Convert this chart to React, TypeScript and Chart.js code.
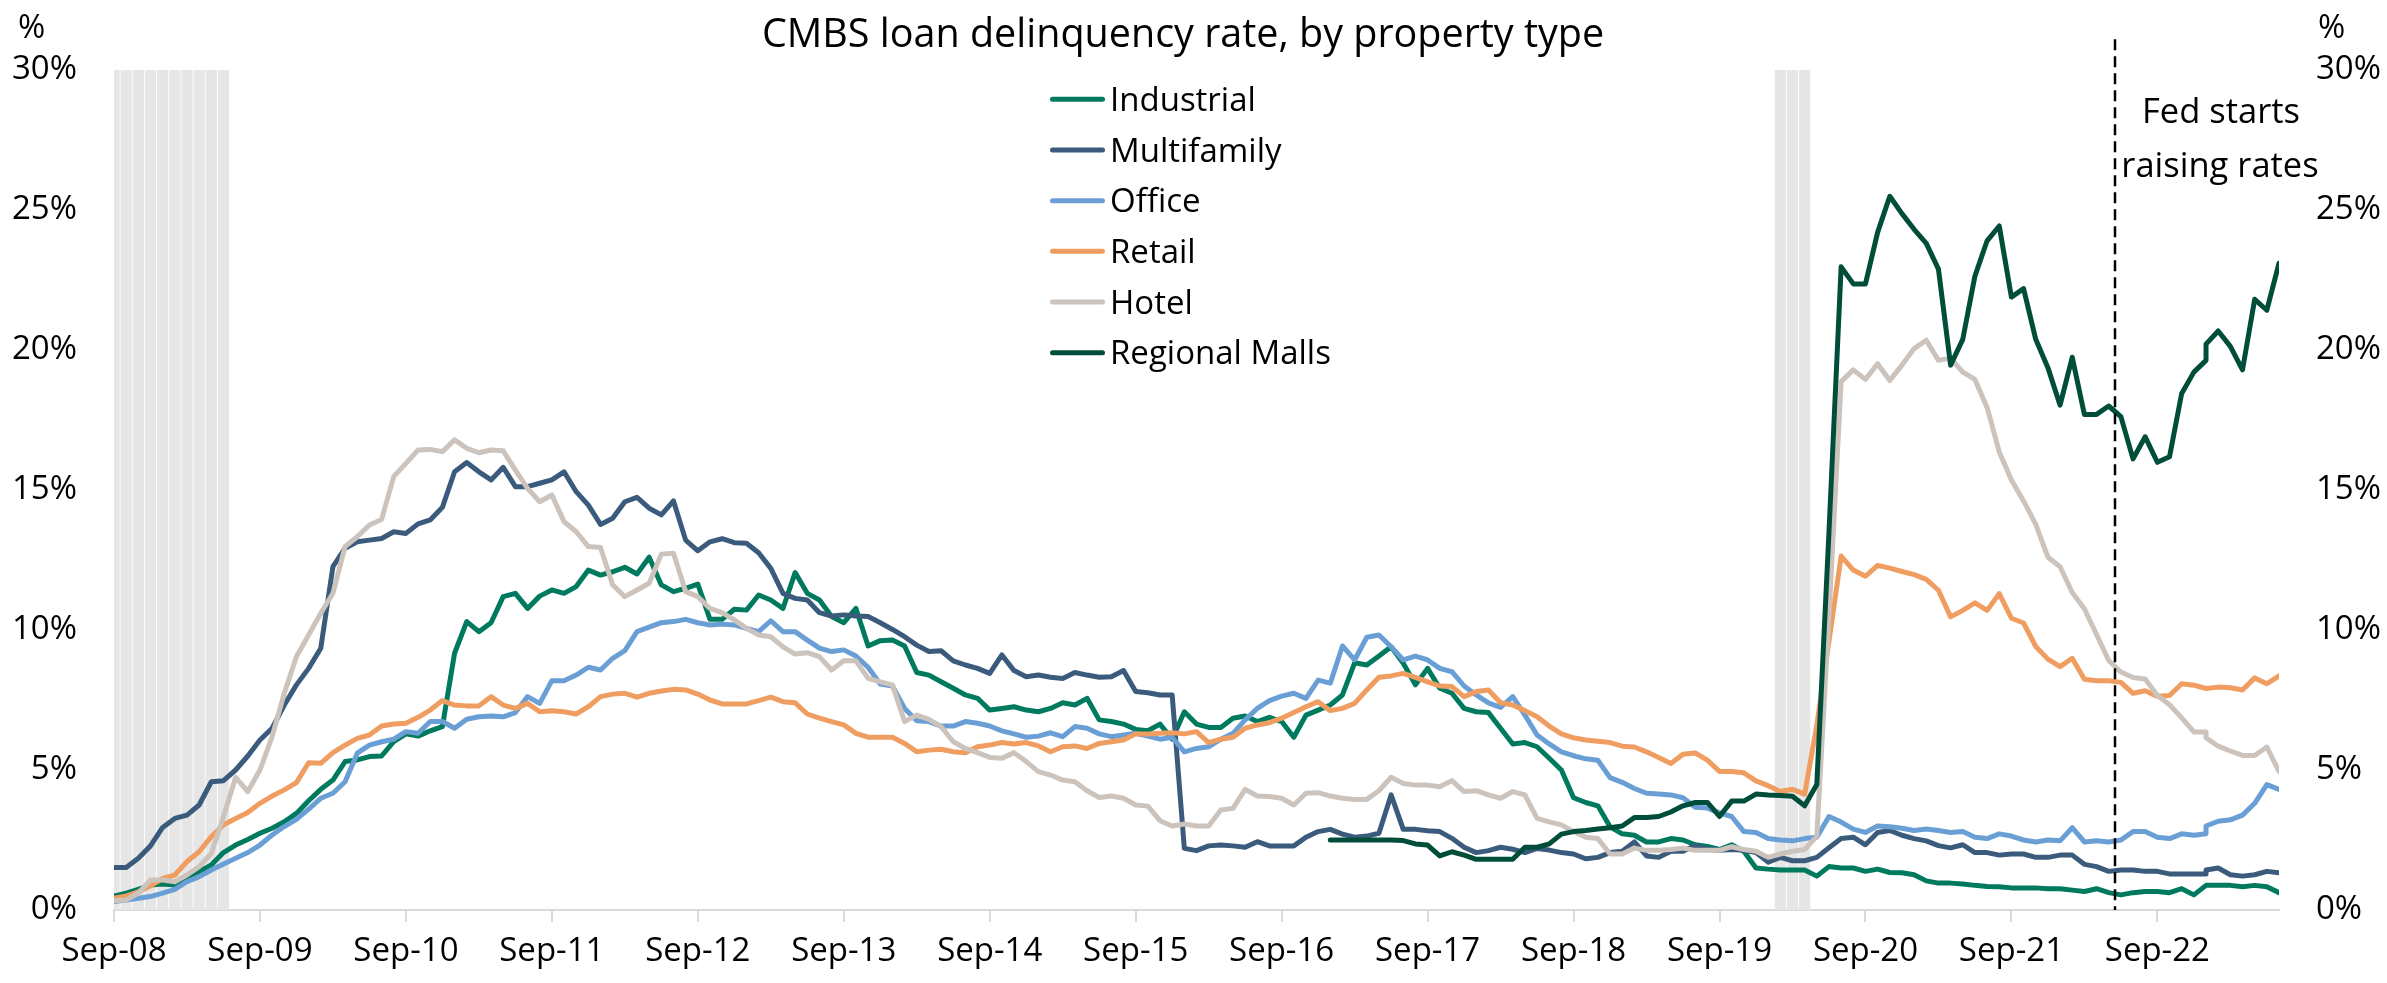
import { useEffect, useRef } from "react";
import { Chart, registerables } from "chart.js";

Chart.register(...registerables);

// ---------- categories ----------
const START_YEAR = 2008;
const START_MONTH = 8; // September, 0-based
const MONTH_COUNT = 179; // Sep-08 .. Jul-23
const REPEATED_MONTH = 172; // this month is listed twice in the source table
const xTickLabels = [
  "Sep-08", "Sep-09", "Sep-10", "Sep-11", "Sep-12", "Sep-13", "Sep-14", "Sep-15",
  "Sep-16", "Sep-17", "Sep-18", "Sep-19", "Sep-20", "Sep-21", "Sep-22",
];
const yTickValues = [0, 5, 10, 15, 20, 25, 30];

// ---------- series (%), one entry per source row ----------
const industrial = [
  0.5, 0.6, 0.74, 0.89, 0.93, 0.89, 1.13, 1.37, 1.61, 2.05, 2.32, 2.52, 2.74, 2.92, 3.15, 3.45, 3.9, 4.31, 4.64, 5.3, 5.36, 5.48, 5.5, 6.01, 6.29, 6.21, 6.4, 6.55, 9.17, 10.3,
  9.94, 10.26, 11.19, 11.31, 10.77, 11.21, 11.43, 11.31, 11.55, 12.14, 11.96, 12.08, 12.24, 12.0, 12.6, 11.61, 11.37, 11.49, 11.64, 10.38, 10.38, 10.74, 10.71, 11.25, 11.07, 10.77, 12.05, 11.31, 11.07, 10.48,
  10.26, 10.77, 9.43, 9.62, 9.64, 9.43, 8.48, 8.39, 8.15, 7.92, 7.68, 7.56, 7.14, 7.2, 7.26, 7.14, 7.08, 7.2, 7.4, 7.32, 7.56, 6.79, 6.73, 6.64, 6.45, 6.4, 6.64, 6.1, 7.08, 6.64,
  6.52, 6.52, 6.85, 6.93, 6.73, 6.88, 6.73, 6.17, 6.96, 7.14, 7.32, 7.68, 8.83, 8.75, 9.07, 9.4, 8.81, 8.04, 8.63, 7.92, 7.74, 7.2, 7.08, 7.05, 6.49, 5.93, 5.98, 5.83, 5.42, 5.0,
  4.01, 3.84, 3.72, 2.97, 2.72, 2.67, 2.43, 2.43, 2.55, 2.5, 2.33, 2.27, 2.16, 2.33, 2.1, 1.5, 1.46, 1.43, 1.43, 1.43, 1.21, 1.55, 1.5, 1.5, 1.38, 1.46, 1.34, 1.33, 1.26, 1.04,
  0.96, 0.96, 0.93, 0.88, 0.84, 0.83, 0.79, 0.79, 0.79, 0.76, 0.76, 0.71, 0.66, 0.76, 0.62, 0.54, 0.62, 0.66, 0.66, 0.62, 0.76, 0.54, 0.88, 0.88, 0.88, 0.88, 0.83, 0.88, 0.83, 0.62,
];
const multifamily = [
  1.52, 1.52, 1.85, 2.29, 2.95, 3.27, 3.39, 3.75, 4.58, 4.62, 5.0, 5.5, 6.07, 6.49, 7.32, 8.04, 8.63, 9.35, 12.26, 12.92, 13.15, 13.21, 13.27, 13.51, 13.45, 13.79, 13.93, 14.38, 15.65, 15.98,
  15.65, 15.36, 15.81, 15.12, 15.12, 15.24, 15.36, 15.65, 14.94, 14.46, 13.77, 13.99, 14.58, 14.74, 14.35, 14.11, 14.61, 13.21, 12.83, 13.15, 13.26, 13.12, 13.1, 12.76, 12.2, 11.31, 11.13, 11.07, 10.62, 10.5,
  10.54, 10.5, 10.48, 10.26, 10.02, 9.76, 9.46, 9.23, 9.26, 8.9, 8.75, 8.63, 8.45, 9.11, 8.55, 8.33, 8.39, 8.31, 8.27, 8.48, 8.39, 8.31, 8.33, 8.55, 7.8, 7.76, 7.68, 7.68, 2.2, 2.12,
  2.29, 2.32, 2.29, 2.24, 2.44, 2.29, 2.29, 2.29, 2.6, 2.8, 2.88, 2.71, 2.6, 2.64, 2.74, 4.11, 2.88, 2.88, 2.83, 2.8, 2.56, 2.24, 2.05, 2.12, 2.24, 2.17, 2.05, 2.2, 2.14, 2.05,
  2.0, 1.83, 1.88, 2.05, 2.1, 2.43, 1.93, 1.88, 2.1, 2.1, 2.3, 2.16, 2.13, 2.16, 2.13, 2.05, 1.71, 1.88, 1.76, 1.76, 1.88, 2.22, 2.55, 2.6, 2.33, 2.77, 2.84, 2.67, 2.55, 2.47,
  2.3, 2.22, 2.33, 2.05, 2.05, 1.96, 2.0, 2.0, 1.88, 1.88, 1.96, 1.96, 1.63, 1.55, 1.38, 1.43, 1.43, 1.38, 1.38, 1.29, 1.29, 1.29, 1.29, 1.43, 1.5, 1.26, 1.21, 1.26, 1.38, 1.33,
];
const office = [
  0.3, 0.36, 0.42, 0.48, 0.6, 0.74, 1.01, 1.19, 1.43, 1.64, 1.85, 2.05, 2.32, 2.68, 2.98, 3.24, 3.6, 3.99, 4.17, 4.58, 5.6, 5.89, 6.01, 6.1, 6.37, 6.31, 6.73, 6.73, 6.49, 6.81,
  6.9, 6.93, 6.9, 7.05, 7.62, 7.38, 8.19, 8.19, 8.39, 8.67, 8.57, 8.99, 9.26, 9.94, 10.1, 10.26, 10.3, 10.38, 10.26, 10.18, 10.21, 10.18, 10.06, 9.94, 10.33, 9.94, 9.94, 9.64, 9.35, 9.23,
  9.29, 9.07, 8.67, 8.07, 8.0, 7.2, 6.76, 6.73, 6.57, 6.57, 6.73, 6.67, 6.57, 6.4, 6.29, 6.17, 6.21, 6.33, 6.19, 6.55, 6.49, 6.29, 6.19, 6.25, 6.31, 6.21, 6.1, 6.17, 5.65, 5.77,
  5.83, 6.1, 6.31, 6.79, 7.2, 7.48, 7.64, 7.74, 7.56, 8.21, 8.1, 9.43, 8.93, 9.74, 9.82, 9.4, 8.93, 9.07, 8.93, 8.63, 8.51, 8.0, 7.68, 7.4, 7.24, 7.62, 6.96, 6.25, 5.93, 5.65,
  5.51, 5.4, 5.35, 4.73, 4.56, 4.34, 4.17, 4.14, 4.11, 4.01, 3.67, 3.64, 3.47, 3.34, 2.8, 2.77, 2.55, 2.5, 2.47, 2.55, 2.6, 3.34, 3.14, 2.89, 2.77, 3.0, 2.97, 2.92, 2.84, 2.89,
  2.84, 2.77, 2.8, 2.6, 2.55, 2.72, 2.64, 2.5, 2.43, 2.5, 2.47, 2.94, 2.43, 2.47, 2.43, 2.5, 2.8, 2.8, 2.6, 2.55, 2.72, 2.67, 2.72, 3.0, 3.17, 3.22, 3.39, 3.81, 4.48, 4.31,
];
const retail = [
  0.42, 0.5, 0.65, 0.86, 1.13, 1.25, 1.73, 2.08, 2.62, 3.04, 3.27, 3.48, 3.81, 4.07, 4.29, 4.55, 5.26, 5.24, 5.62, 5.89, 6.13, 6.25, 6.57, 6.64, 6.67, 6.88, 7.14, 7.48, 7.32, 7.29,
  7.29, 7.62, 7.32, 7.2, 7.38, 7.08, 7.12, 7.08, 7.0, 7.26, 7.62, 7.71, 7.74, 7.6, 7.74, 7.82, 7.88, 7.86, 7.71, 7.5, 7.36, 7.36, 7.36, 7.48, 7.6, 7.44, 7.4, 7.0, 6.85, 6.73,
  6.61, 6.31, 6.17, 6.17, 6.17, 5.95, 5.65, 5.71, 5.74, 5.65, 5.62, 5.83, 5.89, 5.98, 5.93, 5.98, 5.86, 5.65, 5.83, 5.86, 5.77, 5.95, 6.01, 6.07, 6.29, 6.29, 6.31, 6.33, 6.29, 6.37,
  5.98, 6.1, 6.17, 6.49, 6.61, 6.69, 6.85, 7.05, 7.26, 7.44, 7.12, 7.2, 7.38, 7.86, 8.31, 8.36, 8.45, 8.31, 8.15, 8.0, 7.98, 7.62, 7.8, 7.86, 7.4, 7.32, 7.12, 6.9, 6.57, 6.29,
  6.15, 6.07, 6.03, 5.98, 5.85, 5.82, 5.65, 5.45, 5.23, 5.56, 5.61, 5.35, 4.95, 4.95, 4.9, 4.61, 4.44, 4.23, 4.31, 4.14, 6.6, 9.6, 12.64, 12.14, 11.92, 12.31, 12.21, 12.09, 11.98, 11.81,
  11.42, 10.47, 10.7, 10.97, 10.7, 11.3, 10.42, 10.25, 9.41, 8.96, 8.69, 8.99, 8.24, 8.19, 8.19, 8.13, 7.74, 7.83, 7.63, 7.66, 8.08, 8.03, 7.91, 7.91, 7.96, 7.94, 7.86, 8.29, 8.08, 8.36,
];
const hotel = [
  0.33, 0.36, 0.6, 1.07, 1.07, 1.01, 1.25, 1.55, 2.02, 3.33, 4.74, 4.23, 5.0, 6.19, 7.74, 9.05, 9.82, 10.6, 11.31, 12.98, 13.33, 13.75, 13.95, 15.48, 15.95, 16.43, 16.45, 16.37, 16.79, 16.49,
  16.33, 16.43, 16.4, 15.71, 15.06, 14.58, 14.82, 13.87, 13.51, 12.98, 12.95, 11.61, 11.19, 11.43, 11.67, 12.71, 12.74, 11.37, 11.19, 10.77, 10.62, 10.36, 10.06, 9.82, 9.76, 9.4, 9.14, 9.19, 9.05, 8.57,
  8.9, 8.9, 8.27, 8.15, 8.04, 6.73, 6.96, 6.81, 6.55, 6.01, 5.77, 5.62, 5.45, 5.42, 5.62, 5.3, 4.94, 4.82, 4.64, 4.58, 4.26, 4.02, 4.07, 3.99, 3.75, 3.71, 3.19, 3.0, 3.07, 3.0,
  3.0, 3.57, 3.63, 4.31, 4.07, 4.05, 3.99, 3.75, 4.17, 4.19, 4.07, 3.99, 3.95, 3.95, 4.26, 4.74, 4.52, 4.46, 4.46, 4.4, 4.62, 4.23, 4.26, 4.11, 3.99, 4.23, 4.11, 3.27, 3.15, 3.04,
  2.8, 2.6, 2.55, 2.0, 2.0, 2.21, 2.13, 2.13, 2.16, 2.21, 2.13, 2.13, 2.13, 2.26, 2.16, 2.1, 1.88, 2.0, 2.1, 2.16, 2.63, 10.5, 18.87, 19.29, 18.95, 19.51, 18.91, 19.46, 20.05, 20.35,
  19.63, 19.71, 19.21, 18.95, 17.95, 16.36, 15.36, 14.61, 13.77, 12.6, 12.26, 11.34, 10.76, 9.84, 8.91, 8.5, 8.3, 8.25, 7.66, 7.33, 6.86, 6.36, 6.36, 6.15, 5.85, 5.68, 5.52, 5.52, 5.82, 4.95,
];
const MALLS_FIRST_ROW = 100; // Regional Malls series starts in Jan-17
const regionalMalls = [
  2.5, 2.5, 2.5, 2.5, 2.5, 2.5, 2.48, 2.36, 2.32, 1.93, 2.08, 1.96, 1.81, 1.81, 1.81, 1.81, 2.24, 2.24, 2.36, 2.71,
  2.8, 2.84, 2.89, 2.94, 3.0, 3.3, 3.3, 3.34, 3.5, 3.72, 3.84, 3.84, 3.34, 3.89, 3.89, 4.14, 4.11, 4.09, 4.06, 3.72, 4.48, 13.5, 22.97, 22.36, 22.36, 24.2, 25.49, 24.87, 24.31, 23.81,
  22.89, 19.46, 20.38, 22.64, 23.9, 24.43, 21.89, 22.19, 20.38, 19.37, 18.03, 19.74, 17.7, 17.7, 18.0, 17.62, 16.11, 16.9, 15.99, 16.19, 18.45, 19.21, 19.63, 20.21, 20.68, 20.13, 19.29, 21.81, 21.42, 23.1,
];
const recessionMonths = [0, 1, 2, 3, 4, 5, 6, 7, 8, 9, 137, 138, 139];
const RECESSION_TOP = 30;
const FED_HIKE_MONTH = 164.5;
const FED_LINE_TOP = 31.1;

const seriesNames = ["Industrial", "Multifamily", "Office", "Retail", "Hotel", "Regional Malls"];
const seriesColors = ["#007A5E", "#3B5B7D", "#6A9FD5", "#F09D62", "#CBC3BC", "#004D3A"];

// ---------- helpers ----------
const FONT = "'Open Sans', 'Noto Sans', sans-serif";
const monthOfRow = (row: number) => (row <= REPEATED_MONTH ? row : row - 1);

function toPoints(values: number[], firstRow = 0) {
  return values.map((v, k) => ({ x: monthOfRow(k + firstRow), y: v }));
}

const overlayPlugin = {
  id: "overlay",
  afterDatasetsDraw(chart: any) {
    const { ctx, scales } = chart;
    const x = scales.x;
    const y = scales.y;
    const px = Math.round(x.getPixelForValue(FED_HIKE_MONTH));
    ctx.save();
    ctx.strokeStyle = "#000";
    ctx.lineWidth = 2.5;
    ctx.setLineDash([11, 6]);
    ctx.beginPath();
    ctx.moveTo(px, y.getPixelForValue(FED_LINE_TOP));
    ctx.lineTo(px, y.getPixelForValue(0));
    ctx.stroke();
    ctx.restore();
  },
  afterDraw(chart: any) {
    const { ctx } = chart;
    ctx.save();
    ctx.fillStyle = "#000";
    ctx.textBaseline = "alphabetic";
    // title
    ctx.font = `39.5px ${FONT}`;
    ctx.textAlign = "center";
    ctx.fillText("CMBS loan delinquency rate, by property type", 1183, 47);
    // unit labels
    ctx.font = `33px ${FONT}`;
    ctx.textAlign = "left";
    ctx.fillText("%", 18, 38);
    ctx.fillText("%", 2318, 38);
    // annotation
    ctx.font = `34.5px ${FONT}`;
    ctx.textAlign = "center";
    ctx.fillText("Fed starts", 2221, 123);
    ctx.fillText("raising rates", 2220, 177);
    // legend
    ctx.font = `33px ${FONT}`;
    ctx.textAlign = "left";
    seriesNames.forEach((name, i) => {
      const cy = 99.3 + i * 50.67;
      ctx.strokeStyle = seriesColors[i];
      ctx.lineWidth = 5;
      ctx.lineCap = "round";
      ctx.beginPath();
      ctx.moveTo(1052.5, cy);
      ctx.lineTo(1102.5, cy);
      ctx.stroke();
      ctx.fillStyle = "#000";
      ctx.fillText(name, 1110, cy + 11.7);
    });
    ctx.restore();
  },
};

export default function App() {
  const ref = useRef<HTMLCanvasElement>(null);

  useEffect(() => {
    const canvas = ref.current;
    if (!canvas) return;

    const seriesValues = [industrial, multifamily, office, retail, hotel, regionalMalls];
    const lineSets = seriesValues.map((vals, i) => ({
      type: "line" as const,
      label: seriesNames[i],
      data: toPoints(vals, i === 5 ? MALLS_FIRST_ROW : 0),
      borderColor: seriesColors[i],
      backgroundColor: seriesColors[i],
      borderWidth: 5,
      pointRadius: 0,
      pointHoverRadius: 0,
      tension: 0,
      borderJoinStyle: "round" as const,
      borderCapStyle: "round" as const,
      order: 6 - i,
      yAxisID: "y",
    }));

    const recessionSet = {
      type: "bar" as const,
      label: "Recession",
      data: recessionMonths.map((m) => ({ x: m, y: RECESSION_TOP })),
      backgroundColor: "#E6E6E6",
      borderWidth: 0,
      barPercentage: 0.93,
      categoryPercentage: 1,
      order: 100,
      yAxisID: "y",
      clip: 0,
    };

    const yTickCfg = {
      font: { family: FONT, size: 33 },
      color: "#000",
      padding: 37,
      callback: (v: any) => `${v}%`,
    };

    const chart = new Chart(canvas, {
      type: "line",
      data: { datasets: [...lineSets, recessionSet] as any },
      plugins: [overlayPlugin],
      options: {
        animation: false,
        responsive: false,
        devicePixelRatio: 1,
        layout: { padding: { top: 70, left: 0, right: 0, bottom: 0 } },
        plugins: {
          legend: { display: false },
          title: { display: false },
          tooltip: { enabled: false },
        },
        scales: {
          x: {
            type: "linear",
            min: 0,
            max: MONTH_COUNT - 1,
            offset: false,
            afterBuildTicks: (scale: any) => {
              scale.ticks = xTickLabels.map((_, i) => ({ value: i * 12 }));
            },
            afterFit: (scale: any) => {
              scale.height = 73;
            },
            ticks: {
              font: { family: FONT, size: 33 },
              color: "#000",
              padding: 10,
              maxRotation: 0,
              autoSkip: false,
              includeBounds: false,
              callback: (v: any) => xTickLabels[Math.round(Number(v) / 12)],
            },
            grid: {
              display: true,
              drawOnChartArea: false,
              drawTicks: true,
              tickLength: 12,
              color: "#D9D9D9",
              lineWidth: 2,
              offset: false,
            },
            border: { display: true, color: "#D9D9D9", width: 2 },
          },
          y: {
            type: "linear",
            position: "left",
            min: 0,
            max: 30,
            afterBuildTicks: (scale: any) => {
              scale.ticks = yTickValues.map((v) => ({ value: v }));
            },
            afterFit: (scale: any) => {
              scale.width = 114;
            },
            ticks: yTickCfg,
            grid: { display: false, drawTicks: false },
            border: { display: false },
          },
          y2: {
            type: "linear",
            position: "right",
            min: 0,
            max: 30,
            afterBuildTicks: (scale: any) => {
              scale.ticks = yTickValues.map((v) => ({ value: v }));
            },
            afterFit: (scale: any) => {
              scale.width = 108;
            },
            ticks: yTickCfg,
            grid: { display: false, drawTicks: false },
            border: { display: false },
          },
        },
      } as any,
    });

    return () => chart.destroy();
  }, []);

  return (
    <div style={{ position: "fixed", left: 0, top: 0, width: 2387, height: 983, background: "#fff" }}>
      <canvas ref={ref} width={2387} height={983} style={{ display: "block" }} />
    </div>
  );
}
